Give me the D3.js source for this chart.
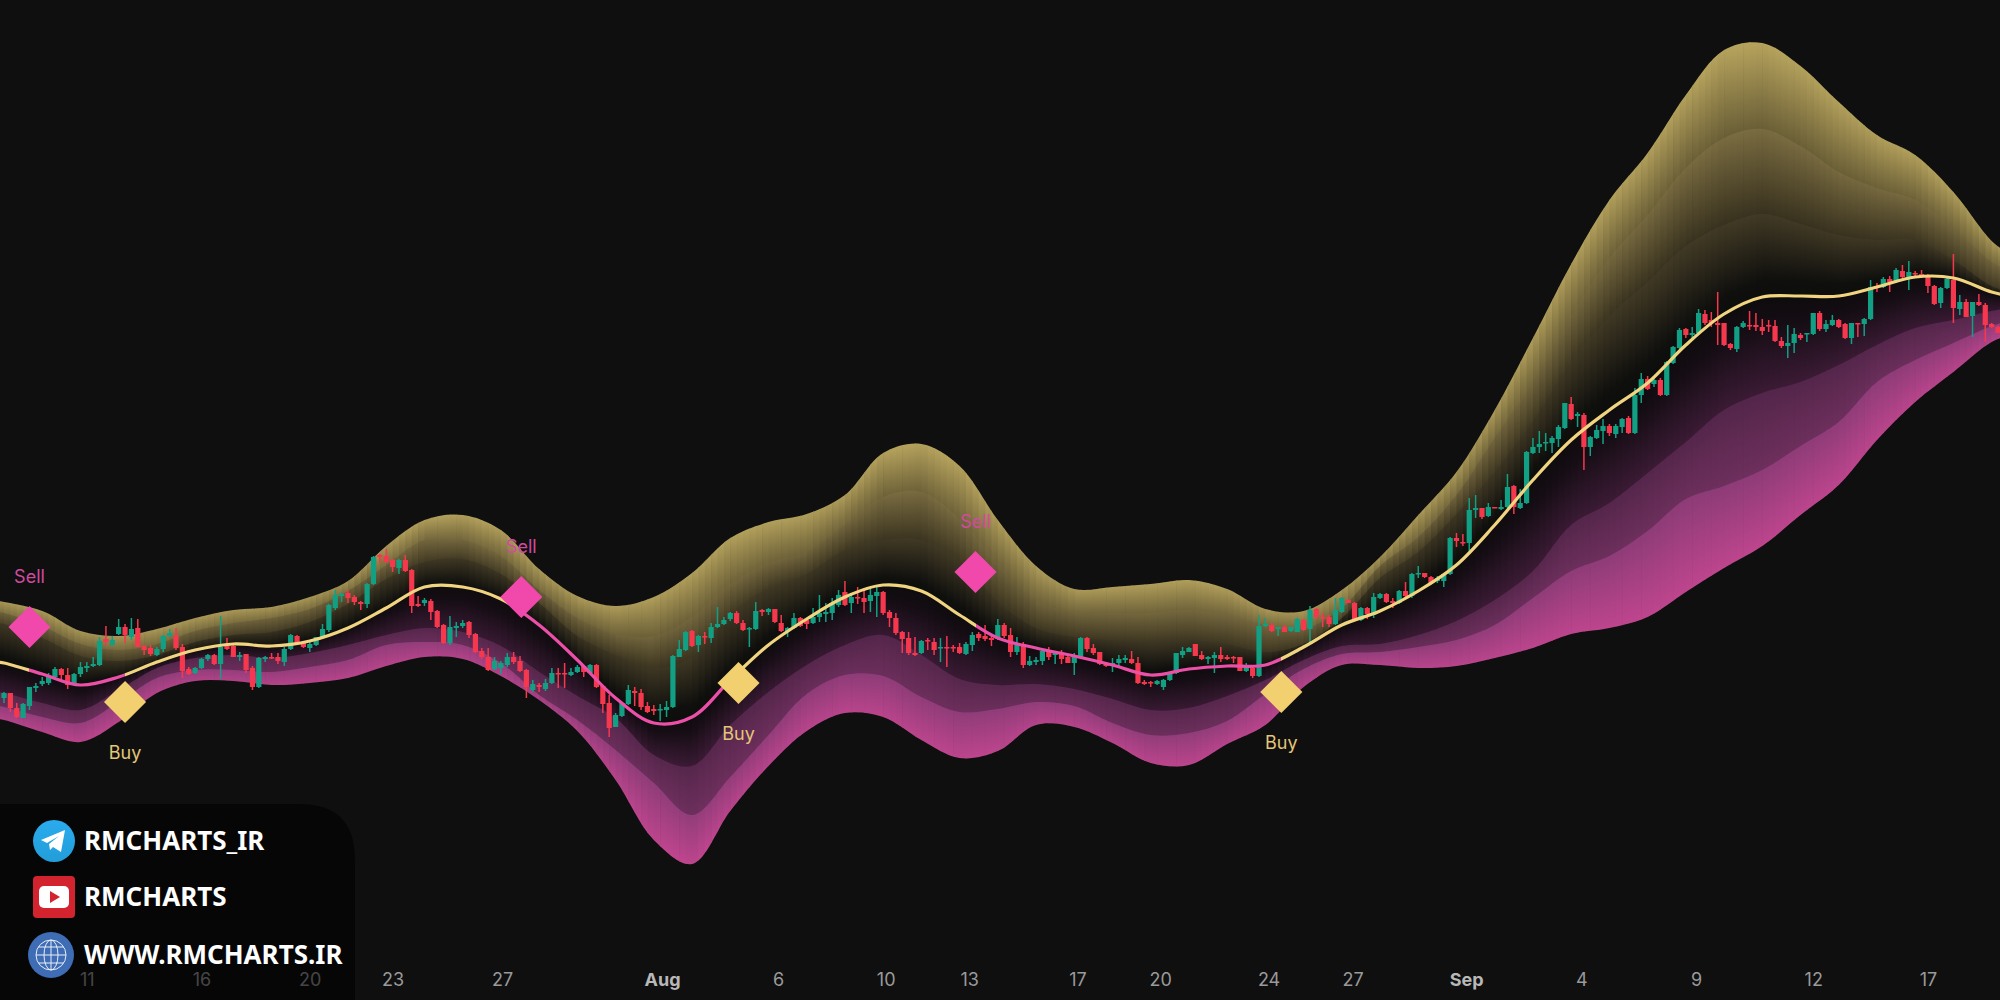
<!DOCTYPE html>
<html>
<head>
<meta charset="utf-8">
<script src="https://cdn.jsdelivr.net/npm/d3@7"></script>
<style>
  html, body { margin: 0; padding: 0; background: #0f0f10; overflow: hidden; }
  svg { display: block; }
  text { font-family: Inter, Roboto, sans-serif; }
</style>
</head>
<body>
<div id="chart"></div>
<script>
// candles, one row per bar: open, high, low, close
const ohlc = [
  [302,308,297,307],[307,307,288,292],[292,297,282,283],[282,297,282,296],[294,313,290,313],[312,317,308,314],[316,323,314,319],[317,327,315,324],[323,333,322,331],[331,332,320,325],
  [325,332,311,315],[316,327,315,326],[326,338,323,333],[332,338,328,334],[334,343,333,336],[335,363,334,359],[361,374,354,358],[355,364,354,360],[366,381,365,373],[373,376,357,365],
  [363,382,360,371],[372,381,353,353],[354,355,345,350],[352,355,344,346],[345,353,344,351],[351,365,348,364],[364,371,363,367],[365,372,350,352],[353,356,322,329],[331,333,325,326],
  [327,333,326,332],[332,342,331,341],[341,346,339,345],[345,346,335,336],[336,384,321,353],[354,362,350,351],[354,355,343,343],[343,348,339,345],[346,346,327,330],[332,334,310,313],
  [313,343,312,342],[341,344,338,343],[343,347,341,342],[343,347,336,339],[338,353,334,351],
  [351,366,350,365],[364,365,355,356],[358,358,352,353],[352,358,348,356],[355,363,354,363],[362,376,361,371],[370,396,368,395],[392,410,390,405],[404,408,398,406],[407,410,397,402],
  [403,405,395,398],[398,399,390,396],[396,417,392,416],[416,444,415,443],[445,446,437,443],[444,451,437,438],[440,441,428,433],[432,441,426,440],[440,445,428,429],[430,431,387,394],
  [396,404,393,394],[397,402,394,400],[399,401,380,388],[389,390,372,373],[375,376,356,357],[357,384,355,373],[372,378,363,374],[374,380,372,377],[378,379,362,365],[366,367,347,348],
  [349,352,341,343],[343,352,329,330],[331,343,330,339],[332,339,326,337],[335,347,333,343],[343,348,336,338],[339,344,328,329],[330,331,302,313],[310,320,308,316],[315,317,308,313],
  [311,321,309,317],[317,332,316,327],[327,332,312,326],[327,337,312,326],[325,332,324,328],[328,335,327,333],
  [334,335,323,328],[327,336,326,335],[335,336,312,313],[314,315,287,296],[297,305,263,272],[273,287,273,285],[284,298,283,297],[296,315,295,310],[309,313,294,307],[307,311,290,293],
  [294,298,287,288],[291,295,285,289],[290,296,279,291],[290,299,283,293],[293,345,292,344],[343,360,343,351],[350,369,349,368],[369,370,353,354],[355,365,348,364],[364,368,356,363],
  [362,377,357,373],[373,393,372,376],[376,383,375,380],[381,388,379,387],[387,389,376,377],[377,380,369,370],[371,373,353,372],[371,398,370,389],[390,391,384,388],[388,392,385,391],
  [391,391,377,378],[377,385,368,369],[369,373,363,372],[372,387,371,382],[382,383,373,374],[380,382,371,376],[377,392,376,383],[383,405,378,387],[386,397,378,388],[387,402,380,397],
  [395,410,393,405],[408,419,394,395],[397,407,387,403],[403,413,396,402],[402,412,387,398],
  [399,412,388,405],[404,413,383,408],[408,409,385,387],[388,390,373,382],[382,387,365,367],[368,369,347,361],[362,368,345,347],[347,363,344,345],[347,360,346,359],[360,362,350,359],
  [358,362,345,350],[352,362,338,353],[353,364,333,352],[353,355,348,352],[353,357,346,347],[346,358,345,356],[355,368,349,365],[366,368,359,362],[364,375,359,361],[362,365,354,360],
  [361,381,360,375],[375,377,362,364],[365,372,343,348],[348,363,345,355],[356,358,332,335],[335,344,334,339],[338,343,335,340],[339,351,335,349],[349,353,340,343],[345,348,336,347],
  [346,350,336,341],[343,344,337,337],[337,347,325,344],[343,363,342,362],[362,363,348,351],[352,356,345,347],[348,348,335,336],[337,338,333,334],[334,342,328,337],[337,345,333,341],
  [340,345,337,342],[341,349,336,337],[337,343,316,317],[318,320,315,316],[318,319,313,317],[316,320,315,319],
  [313,321,310,320],[320,328,319,327],[327,347,326,347],[345,353,342,349],[348,353,348,352],[356,356,344,344],[345,349,340,341],[341,344,336,343],[342,348,327,345],[345,353,338,341],
  [343,345,340,341],[343,344,337,342],[343,343,329,329],[329,337,328,333],[332,335,322,324],[324,385,323,374],[374,382,373,376],[375,377,368,369],[371,373,364,373],[373,375,368,368],
  [369,373,368,373],[368,382,368,381],[380,381,369,370],[371,394,357,390],[391,392,381,383],[383,387,373,382],[383,385,373,376],[376,402,375,390],[388,403,387,402],[400,401,397,397],
  [397,398,379,380],[380,393,379,392],[392,393,381,386],[385,407,382,403],[402,407,401,406],[406,407,397,398],[399,402,392,397],[397,410,396,409],[409,418,402,404],[404,427,402,426],
  [426,434,422,427],[427,427,422,423],[423,424,416,417],[419,424,417,422],[419,427,413,426],[426,463,425,462],
  [462,467,453,459],[458,466,454,457],[457,502,449,490],[490,505,482,492],[492,492,481,483],[484,497,483,493],[493,493,492,492],[491,500,490,493],[493,526,492,513],[514,515,486,493],
  [492,511,491,497],[497,549,496,548],[547,562,546,553],[553,569,547,556],[557,567,549,558],[557,564,547,562],[561,575,553,573],[572,597,571,597],[596,603,580,581],[584,588,573,586],
  [585,587,530,553],[553,564,544,563],[562,575,561,570],[569,581,556,574],[574,576,564,567],[566,576,562,574],[573,582,567,581],[582,584,566,567],[567,612,566,605],[605,627,597,621],
  [621,624,610,611],[616,623,613,620],[620,622,604,605],[605,639,604,638],[637,654,636,653],[652,672,651,670],
  [671,672,662,665],[665,673,660,667],[667,691,667,687],[686,690,675,677],[680,688,673,677],[677,708,655,675],[677,677,654,655],[656,657,650,652],[651,674,648,673],[673,679,672,677],
  [675,689,670,674],[675,687,669,673],[673,681,665,669],[675,680,668,674],[674,680,658,659],[659,663,652,654],[654,675,642,657],[657,672,647,666],[665,667,660,662],[666,667,658,667],
  [666,687,665,687],[687,689,669,671],[671,680,668,676],[675,685,674,680],[680,681,672,673],[676,677,661,662],[662,677,656,677],[677,677,663,676],[676,682,664,681],[681,720,680,713],
  [714,717,708,712],[713,723,712,721],[721,724,708,718],[718,732,717,730],[729,735,722,723],[723,739,710,728],[727,729,723,726],[726,730,723,724],[725,726,707,714],[714,715,695,696],
  [697,713,692,712],[712,723,711,721],[720,746,677,692],[691,705,685,698],[698,701,683,683],[684,698,663,698],[698,706,694,695],[695,697,658,675],[676,677,672,673],[673,674,667,667]
];

// ribbon lines, read every 6 bars (first and last rows run just past the picture edge)
const bandBars = [-1].concat(d3.range(0, 313, 6), [315]);
const upperOuter = [399,398,389,369,364,371,382,390,393,403,419,454,480,485,470,431,404,394,403,427,462,478,486,505,547,556,534,480,434,411,413,416,420,411,391,389,410,443,485,528,590,662,736,800,847,905,950,957,934,898,865,845,808,759,745];
const upperMid = [388,387,374,356,350,356,369,377,382,391,409,435,460,460,444,410,382,366,364,383,416,437,448,475,503,508,481,438,400,388,387,387,390,385,375,371,392,434,463,505,562,618,684,742,785,832,862,871,854,828,812,800,772,738,728];
const upperInner = [377,376,362,344,339,345,358,365,368,378,396,421,438,441,426,397,364,345,332,343,386,412,426,450,460,460,439,398,372,363,360,358,360,356,348,356,382,422,448,486,528,579,638,684,718,754,775,786,776,765,760,760,740,714,708];
const basis = [338,337,326,315,323,338,350,356,354,359,372,392,413,413,401,375,340,302,277,283,320,355,381,403,415,409,385,362,352,344,335,325,331,334,335,353,375,389,409,435,475,520,560,590,617,655,686,703,704,704,713,723,722,708,704];
const lowerInner = [308,307,297,290,310,332,342,345,342,347,355,365,372,368,354,328,304,282,245,234,275,308,335,355,365,345,321,315,316,311,301,290,292,304,320,340,354,356,365,379,400,429,475,497,527,558,590,607,618,635,655,672,680,689,692];
const lowerMid = [294,293,283,277,298,322,330,330,328,333,340,355,358,355,337,305,280,250,217,185,223,265,306,325,324,303,288,291,298,294,277,265,267,279,306,331,346,348,353,360,375,402,429,444,469,501,514,530,554,578,618,640,657,674,680];
const lowerOuter = [281,280,268,258,278,307,319,319,315,317,322,334,343,341,324,300,269,220,160,136,189,234,269,287,283,260,242,249,275,273,257,237,235,256,275,313,335,335,332,334,342,352,366,372,383,408,432,454,485,515,560,598,628,658,665];

// signals
const signalBars = [4, 19, 81.2, 115.3, 152.5, 200.5];
const signalTypes = ['Sell', 'Buy', 'Sell', 'Buy', 'Sell', 'Buy'];
const signalPrices = [373, 298, 403, 317, 428, 308];

// x axis
const tickBars = [13, 31, 48, 61, 78.2, 103.3, 121.5, 138.4, 151.5, 168.5, 181.5, 198.5, 211.7, 229.5, 247.6, 265.6, 284, 302];
const tickLabels = ['11', '16', '20', '23', '27', 'Aug', '6', '10', '13', '17', '20', '24', '27', 'Sep', '4', '9', '12', '17'];

// watermark
const brandLabels = ['RMCHARTS_IR', 'RMCHARTS', 'WWW.RMCHARTS.IR'];

const width = 2000, height = 1000;
const gold = '#f0d47f', pink = '#ec4fa8', upColor = '#12a085', downColor = '#f5384e';

const x = d3.scaleLinear().domain([0, 313]).range([4, 1998]);
const y = d3.scaleLinear().domain([0, 1000]).range([height, 0]);

const svg = d3.select('#chart').append('svg')
  .attr('width', width)
  .attr('height', height);
svg.append('rect').attr('width', width).attr('height', height).attr('fill', '#0f0f10');
const defs = svg.append('defs');

/* ribbon: each band has its own gradient, stretched per bar so the stripes show */
const bands = [
  { top: upperOuter, bottom: upperMid, stops: [[0, '#b8a55e'], [1, '#635833']] },
  { top: upperMid, bottom: upperInner, stops: [[0, '#7c6e42'], [1, '#322c1b']] },
  { top: upperInner, bottom: basis, stops: [[0, '#443c26'], [0.75, '#0f0f0d'], [1, '#0c0c0c']] },
  { top: basis, bottom: lowerInner, stops: [[0, '#0c0b0c'], [0.3, '#150d14'], [1, '#3f1c38']] },
  { top: lowerInner, bottom: lowerMid, stops: [[0, '#522549'], [1, '#70305f']] },
  { top: lowerMid, bottom: lowerOuter, stops: [[0, '#8a3b76'], [1, '#c2468f']] }
];

const columns = d3.range(-1, 315);
bands.forEach((band, k) => {
  const grad = defs.append('linearGradient')
    .attr('id', 'band-grad-' + k)
    .attr('x1', 0).attr('y1', 0).attr('x2', 0).attr('y2', 1);
  band.stops.forEach(s => grad.append('stop').attr('offset', s[0]).attr('stop-color', s[1]));

  // bottom runs a little long so the next band paints over the seam
  const tuck = k < bands.length - 1 ? 3 : 0;
  const area = d3.area()
    .x((d, i) => x(bandBars[i]))
    .y0((d, i) => y(band.top[i]))
    .y1((d, i) => y(band.bottom[i]) + tuck)
    .curve(d3.curveCatmullRom);
  defs.append('clipPath').attr('id', 'band-clip-' + k)
    .append('path').attr('d', area(bandBars));

  const topAt = d3.scaleLinear().domain(bandBars).range(band.top);
  const bottomAt = d3.scaleLinear().domain(bandBars).range(band.bottom);
  const colTop = d => Math.min(y(topAt(d)), y(topAt(d + 1))) - 4;
  const colBottom = d => Math.max(y(bottomAt(d)), y(bottomAt(d + 1))) + 6;
  svg.append('g')
    .attr('clip-path', `url(#band-clip-${k})`)
    .selectAll('rect')
    .data(columns)
    .join('rect')
    .attr('x', d => x(d))
    .attr('width', x(1) - x(0) + 0.6)
    .attr('y', colTop)
    .attr('height', d => colBottom(d) - colTop(d))
    .attr('fill', `url(#band-grad-${k})`);
});

/* candles */
const candle = svg.append('g').selectAll('g')
  .data(ohlc)
  .join('g')
  .attr('fill', d => d[3] >= d[0] ? upColor : downColor)
  .attr('stroke', d => d[3] >= d[0] ? upColor : downColor);
candle.append('line')
  .attr('x1', (d, i) => x(i)).attr('x2', (d, i) => x(i))
  .attr('y1', d => y(d[1])).attr('y2', d => y(d[2]))
  .attr('stroke-width', 1.5);
candle.append('rect')
  .attr('x', (d, i) => x(i) - 2.6)
  .attr('width', 5.2)
  .attr('y', d => y(Math.max(d[0], d[3])))
  .attr('height', d => Math.max(1.5, Math.abs(y(d[0]) - y(d[3]))))
  .attr('stroke', 'none');

/* basis line, colour flips at each signal */
const lineGrad = defs.append('linearGradient')
  .attr('id', 'basis-grad')
  .attr('gradientUnits', 'userSpaceOnUse')
  .attr('x1', 0).attr('x2', width).attr('y1', 0).attr('y2', 0);
let current = gold, from = 0;
signalBars.forEach((b, i) => {
  const at = x(b) / width;
  lineGrad.append('stop').attr('offset', from).attr('stop-color', current);
  lineGrad.append('stop').attr('offset', at).attr('stop-color', current);
  current = signalTypes[i] === 'Buy' ? gold : pink;
  from = at;
});
lineGrad.append('stop').attr('offset', from).attr('stop-color', current);
lineGrad.append('stop').attr('offset', 1).attr('stop-color', current);

const line = d3.line()
  .x((d, i) => x(bandBars[i]))
  .y(d => y(d))
  .curve(d3.curveCatmullRom);
svg.append('path')
  .attr('d', line(basis))
  .attr('fill', 'none')
  .attr('stroke', 'url(#basis-grad)')
  .attr('stroke-width', 3.2);

/* signal diamonds */
const diamond = d3.symbol().type(d3.symbolDiamond2).size(1130);
const signals = svg.append('g').selectAll('g')
  .data(signalBars)
  .join('g')
  .attr('transform', (d, i) => `translate(${x(d)},${y(signalPrices[i])})`);
signals.append('path')
  .attr('d', diamond)
  .attr('fill', (d, i) => signalTypes[i] === 'Buy' ? '#f2d06f' : '#f048ab');
signals.append('text')
  .attr('text-anchor', 'middle')
  .attr('dy', '0.35em')
  .attr('y', (d, i) => signalTypes[i] === 'Buy' ? 51 : -50)
  .attr('font-size', 18)
  .attr('fill', (d, i) => signalTypes[i] === 'Buy' ? '#e3c678' : '#d14a9e')
  .text((d, i) => signalTypes[i]);

/* x axis */
const axis = svg.append('g')
  .attr('transform', 'translate(0,980)')
  .call(d3.axisBottom(x).tickValues(tickBars).tickSize(0).tickFormat((d, i) => tickLabels[i]));
axis.select('.domain').remove();
axis.selectAll('text')
  .attr('y', 0)
  .attr('dy', '0.36em')
  .attr('font-family', 'Inter, Roboto, sans-serif')
  .attr('font-size', 18)
  .attr('font-weight', (d, i) => /[A-Z]/.test(tickLabels[i]) ? 700 : 400)
  .attr('fill', (d, i) => /[A-Z]/.test(tickLabels[i]) ? '#b8b8b8' : '#9a9a9a');

/* watermark panel */
svg.append('path')
  .attr('d', 'M0,804 H300 Q355,804 355,860 V1000 H0 Z')
  .attr('fill', '#000')
  .attr('fill-opacity', 0.55);

const brand = svg.append('g')
  .attr('font-weight', 700)
  .attr('font-size', 26)
  .attr('fill', '#fff');
brand.selectAll('text')
  .data(brandLabels)
  .join('text')
  .style('font-family', '"Noto Sans", sans-serif')
  .attr('x', 84)
  .attr('y', (d, i) => [841, 897, 955][i])
  .attr('dy', '0.36em')
  .text(d => d);

// telegram
const tgGrad = defs.append('linearGradient').attr('id', 'tg').attr('x1', 0).attr('y1', 0).attr('x2', 0).attr('y2', 1);
tgGrad.append('stop').attr('offset', 0).attr('stop-color', '#2aabee');
tgGrad.append('stop').attr('offset', 1).attr('stop-color', '#229ed9');
const tg = svg.append('g').attr('transform', 'translate(54,841)');
tg.append('circle').attr('r', 21).attr('fill', 'url(#tg)');
tg.append('path').attr('d', 'M-13,-1 L11,-11 L7,11 L-1,6 L-4,9 L-5,3 L5,-5 L-7,2 Z').attr('fill', '#fff');

// youtube
const yt = svg.append('g').attr('transform', 'translate(54,897)');
yt.append('rect').attr('x', -21).attr('y', -21).attr('width', 42).attr('height', 42).attr('rx', 4).attr('fill', '#d2232f');
yt.append('rect').attr('x', -15).attr('y', -11).attr('width', 30).attr('height', 22).attr('rx', 5).attr('fill', '#fff');
yt.append('path').attr('d', 'M-4,-6 L6,0 L-4,6 Z').attr('fill', '#d2232f');

// globe
const globe = svg.append('g').attr('transform', 'translate(51,955)');
globe.append('circle').attr('r', 23).attr('fill', '#3f6db5');
const globeLines = globe.append('g').attr('fill', 'none').attr('stroke', '#e8eef8').attr('stroke-width', 1);
globeLines.append('circle').attr('r', 15);
globeLines.append('ellipse').attr('rx', 7).attr('ry', 15);
globeLines.append('line').attr('x1', 0).attr('x2', 0).attr('y1', -15).attr('y2', 15);
[-8, 0, 8].forEach(d => {
  const half = Math.sqrt(225 - d * d);
  globeLines.append('line').attr('x1', -half).attr('x2', half).attr('y1', d).attr('y2', d);
});
</script>
</body>
</html>
